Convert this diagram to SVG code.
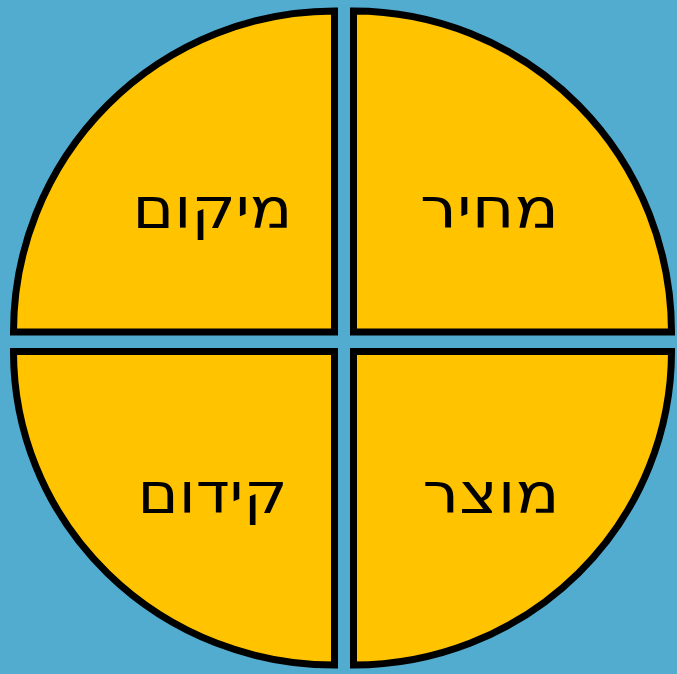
<svg xmlns="http://www.w3.org/2000/svg" width="677" height="674" viewBox="0 0 677 674">
<style>
.q{fill:#FFC300;stroke:#000;stroke-width:7;stroke-linejoin:miter}
.t{font-family:"DejaVu Sans",sans-serif;font-size:56px;fill:#000;text-anchor:middle;direction:rtl}
</style>
<rect width="677" height="674" fill="#52ACCF"/>
<g id="tl"><path class="q" d="M334.5,332 H13.5 A321,321 0 0 1 334.5,11 Z"/><text class="t" x="212.5" y="228" textLength="160" lengthAdjust="spacingAndGlyphs">מיקום</text></g>
<g id="tr"><path class="q" d="M353.5,332 V11 A318,321 0 0 1 671.5,332 Z"/><text class="t" x="489.5" y="228" textLength="139" lengthAdjust="spacingAndGlyphs">מחיר</text></g>
<g id="bl"><path class="q" d="M334.5,351.5 V665 A321,313.5 0 0 1 13.5,351.5 Z"/><text class="t" x="212.5" y="513" textLength="150" lengthAdjust="spacingAndGlyphs">קידום</text></g>
<g id="br"><path class="q" d="M353.5,351.5 H671.5 A318,313.5 0 0 1 353.5,665 Z"/><text class="t" x="491" y="513" textLength="137" lengthAdjust="spacingAndGlyphs">מוצר</text></g>
</svg>
